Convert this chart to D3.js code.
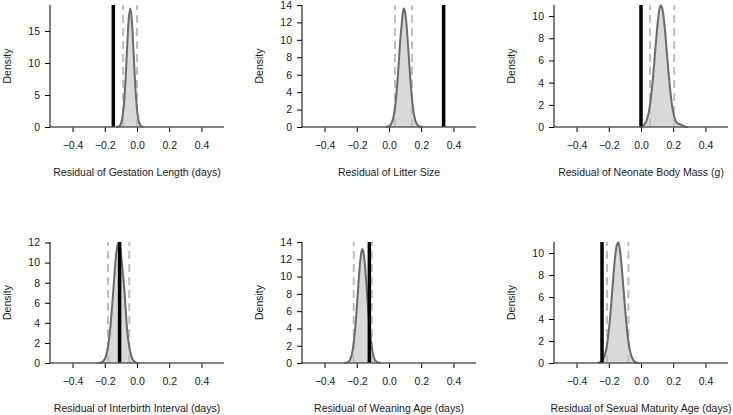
<!DOCTYPE html>
<html lang="en">
<head>
  <meta charset="UTF-8">
  <script src="https://d3js.org/d3.v7.min.js"></script>
  <title>Residual densities</title>
  <style>
    body { margin: 0; background: #fff; }
    text { font-family: "Liberation Sans", Arial, sans-serif; font-size: 10.5px; fill: #1a1a1a; }
  </style>
</head>
<body>
  <div id="chart"></div>
  <script>
    // panel titles, in reading order
    const titles = [
      'Residual of Gestation Length (days)',
      'Residual of Litter Size',
      'Residual of Neonate Body Mass (g)',
      'Residual of Interbirth Interval (days)',
      'Residual of Weaning Age (days)',
      'Residual of Sexual Maturity Age (days)'
    ];
    const xTicks = [-0.4, -0.2, 0.0, 0.2, 0.4];
    const yMax = [19.05, 14, 11, 12.05, 14, 11];
    const yTicks = [
      [0, 5, 10, 15],
      [0, 2, 4, 6, 8, 10, 12, 14],
      [0, 2, 4, 6, 8, 10],
      [0, 2, 4, 6, 8, 10, 12],
      [0, 2, 4, 6, 8, 10, 12, 14],
      [0, 2, 4, 6, 8, 10]
    ];
    // observed value (black line) and interval (dashed lines)
    const observed = [-0.147, 0.339, 0.0, -0.108, -0.122, -0.242];
    const ciLow = [-0.086, 0.037, 0.056, -0.180, -0.219, -0.211];
    const ciHigh = [0.000, 0.143, 0.206, -0.048, -0.107, -0.078];

    // density curves
    const gestX = [-0.13, -0.12, -0.11, -0.10, -0.09, -0.08, -0.07, -0.06, -0.05, -0.04, -0.03, -0.02, -0.01, 0.00, 0.01, 0.02, 0.03, 0.04];
    const gestY = [0, 0.03, 0.13, 0.50, 1.56, 3.92, 7.97, 13.06, 17.27, 18.5, 15.85, 11.0, 6.16, 2.78, 1.01, 0.30, 0.07, 0];
    const litterX = [-0.02, -0.01, 0.00, 0.01, 0.02, 0.03, 0.04, 0.05, 0.06, 0.07, 0.08, 0.09, 0.10, 0.11, 0.12, 0.13, 0.14, 0.15, 0.16, 0.17, 0.18, 0.19, 0.20, 0.21];
    const litterY = [0, 0.03, 0.09, 0.25, 0.61, 1.35, 2.66, 4.64, 7.22, 10.0, 12.0, 13.6, 13.2, 11.5, 8.9, 6.14, 3.78, 2.06, 1.0, 0.43, 0.17, 0.06, 0.02, 0];
    const neonateX = [-0.01, 0.00, 0.01, 0.02, 0.03, 0.04, 0.05, 0.06, 0.07, 0.08, 0.09, 0.10, 0.11, 0.12, 0.13, 0.14, 0.15, 0.16, 0.17, 0.18, 0.19, 0.20, 0.21, 0.22, 0.23, 0.24, 0.25, 0.26, 0.27, 0.28, 0.29];
    const neonateY = [0, 0.04, 0.09, 0.21, 0.43, 0.83, 1.48, 2.45, 3.77, 5.40, 7.18, 8.87, 10.2, 10.95, 10.8, 9.97, 8.55, 6.82, 5.06, 3.5, 2.23, 1.34, 0.74, 0.45, 0.30, 0.25, 0.20, 0.12, 0.05, 0.01, 0];
    const interX = [-0.24, -0.23, -0.22, -0.21, -0.20, -0.19, -0.18, -0.17, -0.16, -0.15, -0.14, -0.13, -0.12, -0.11, -0.10, -0.09, -0.08, -0.07, -0.06, -0.05, -0.04, -0.03, -0.02, -0.01, 0.00, 0.01];
    const interY = [0, 0.02, 0.07, 0.17, 0.40, 0.85, 1.62, 2.84, 4.55, 6.6, 8.8, 10.7, 11.8, 12.0, 11.0, 9.3, 7.6, 5.2, 3.1, 1.8, 0.97, 0.46, 0.2, 0.08, 0.03, 0];
    const weanX = [-0.28, -0.27, -0.26, -0.25, -0.24, -0.23, -0.22, -0.21, -0.20, -0.19, -0.18, -0.17, -0.165, -0.16, -0.15, -0.14, -0.13, -0.12, -0.11, -0.10, -0.09, -0.08, -0.07, -0.06, -0.05];
    const weanY = [0, 0.02, 0.06, 0.18, 0.46, 1.07, 2.17, 3.95, 6.35, 9.07, 11.5, 12.95, 13.15, 12.95, 11.5, 9.07, 6.35, 3.95, 2.17, 1.07, 0.46, 0.18, 0.06, 0.02, 0];
    const sexX = [-0.27, -0.26, -0.25, -0.24, -0.23, -0.22, -0.21, -0.20, -0.19, -0.18, -0.17, -0.16, -0.15, -0.14, -0.13, -0.12, -0.11, -0.10, -0.09, -0.08, -0.07, -0.06, -0.05, -0.04, -0.03, -0.02, -0.01];
    const sexY = [0, 0.04, 0.10, 0.24, 0.50, 0.97, 1.75, 2.9, 4.45, 6.25, 8.14, 9.73, 10.73, 10.95, 10.2, 8.8, 7.0, 5.15, 3.5, 2.17, 1.24, 0.66, 0.32, 0.14, 0.05, 0.02, 0];

    const densX = [gestX, litterX, neonateX, interX, weanX, sexX];
    const densY = [gestY, litterY, neonateY, interY, weanY, sexY];

    const colLeft = [50, 302, 554];
    const rowTop = [5, 242];
    const plotW = 174, plotH = [122, 121];

    const svg = d3.select('#chart').append('svg')
      .attr('width', 733)
      .attr('height', 415);

    titles.forEach((title, i) => {
      const col = i % 3, row = Math.floor(i / 3);
      const left = colLeft[col], top = rowTop[row], h = plotH[row];

      const x = d3.scaleLinear().domain([-0.54, 0.54]).range([left, left + plotW]);
      const y = d3.scaleLinear().domain([0, yMax[i]]).range([top + h, top]);

      const g = svg.append('g');
      const pts = densX[i].map((v, k) => [v, densY[i][k]]);

      // shaded density
      g.append('path')
        .datum(pts)
        .attr('fill', '#d9d9d9')
        .attr('d', d3.area().x(d => x(d[0])).y0(y(0)).y1(d => y(d[1])).curve(d3.curveMonotoneX));

      // interval lines
      g.selectAll('line.ci')
        .data([ciLow[i], ciHigh[i]])
        .enter()
        .append('line')
        .attr('x1', d => x(d)).attr('x2', d => x(d))
        .attr('y1', y(0)).attr('y2', y(yMax[i]))
        .attr('stroke', '#bdbdbd')
        .attr('stroke-width', 2)
        .attr('stroke-dasharray', '8,5');

      // density outline
      g.append('path')
        .datum(pts)
        .attr('fill', 'none')
        .attr('stroke', '#6a6a6a')
        .attr('stroke-width', 2)
        .attr('d', d3.line().x(d => x(d[0])).y(d => y(d[1])).curve(d3.curveMonotoneX));

      // observed value
      g.append('line')
        .attr('x1', x(observed[i])).attr('x2', x(observed[i]))
        .attr('y1', y(0)).attr('y2', y(yMax[i]))
        .attr('stroke', '#000')
        .attr('stroke-width', 3.5);

      // axes
      const xAxis = g.append('g')
        .attr('transform', `translate(0,${y(0)})`)
        .call(d3.axisBottom(x).tickValues(xTicks).tickFormat(d3.format('.1f')).tickSize(5).tickPadding(10));
      xAxis.select('.domain').remove();
      xAxis.selectAll('text').style('font-size', '10.5px').attr('fill', '#1a1a1a');

      g.append('line')
        .attr('x1', left).attr('x2', left + plotW)
        .attr('y1', y(0)).attr('y2', y(0))
        .attr('stroke', '#5a5a5a')
        .attr('stroke-width', 1.6);

      const yAxis = g.append('g')
        .attr('transform', `translate(${left},0)`)
        .call(d3.axisLeft(y).tickValues(yTicks[i]).tickFormat(d3.format('d')).tickSize(5).tickPadding(5));
      yAxis.select('.domain').remove();
      yAxis.selectAll('text').style('font-size', '10.5px').attr('fill', '#1a1a1a');

      g.append('line')
        .attr('x1', left).attr('x2', left)
        .attr('y1', y(0)).attr('y2', y(yMax[i]))
        .attr('stroke', '#000')
        .attr('stroke-width', 1);

      // titles
      g.append('text')
        .attr('x', left + plotW / 2)
        .attr('y', top + h + 49)
        .attr('text-anchor', 'middle')
        .text(title);

      g.append('text')
        .attr('transform', `translate(${left - 39},${top + h / 2}) rotate(-90)`)
        .attr('text-anchor', 'middle')
        .text('Density');
    });
  </script>
</body>
</html>
